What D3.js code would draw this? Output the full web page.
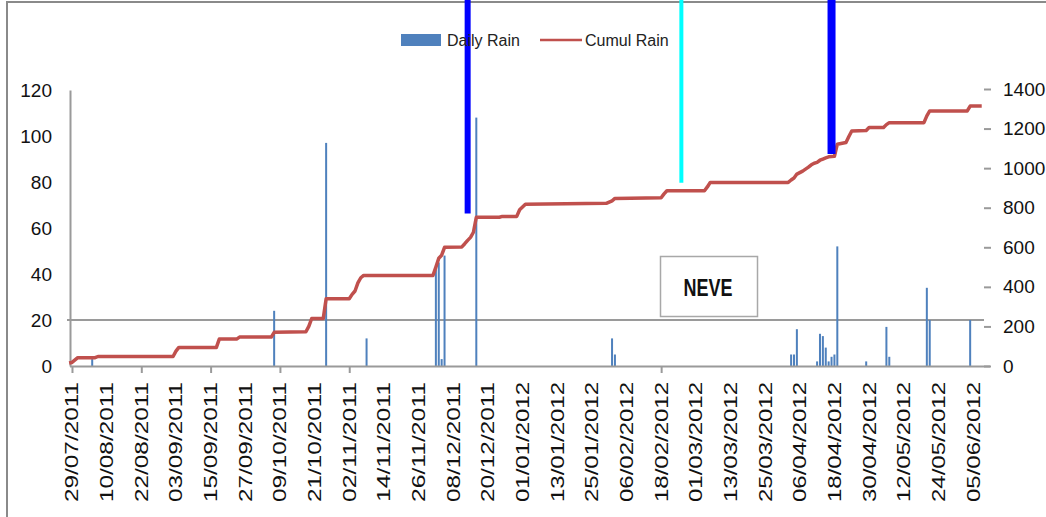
<!DOCTYPE html>
<html><head><meta charset="utf-8">
<script src="https://cdn.jsdelivr.net/npm/d3@7"></script>
<style>
html,body{margin:0;padding:0;background:#fff;}
svg{display:block;font-family:"Liberation Sans",Arial,sans-serif;}
</style></head>
<body><svg id="c" width="1046" height="517"></svg>
<script>
// ---------- DATA ----------
const xTickLabels = ["29/07/2011","10/08/2011","22/08/2011","03/09/2011","15/09/2011","27/09/2011","09/10/2011","21/10/2011","02/11/2011","14/11/2011","26/11/2011","08/12/2011","20/12/2011","01/01/2012","13/01/2012","25/01/2012","06/02/2012","18/02/2012","01/03/2012","13/03/2012","25/03/2012","06/04/2012","18/04/2012","30/04/2012","12/05/2012","24/05/2012","05/06/2012"];
const xTickMarks = ["29/07/2011","22/08/2011","15/09/2011","09/10/2011","02/11/2011","18/02/2012"];
const leftTicks = [0,20,40,60,80,100,120];
const rightTicks = [0,200,400,600,800,1000,1200,1400];

const rainDates = ["05/08/2011","07/10/2011","25/10/2011","08/11/2011","02/12/2011","03/12/2011","04/12/2011","05/12/2011","16/12/2011","01/02/2012","02/02/2012","03/04/2012","04/04/2012","05/04/2012","12/04/2012","13/04/2012","14/04/2012","15/04/2012","16/04/2012","17/04/2012","18/04/2012","19/04/2012","29/04/2012","06/05/2012","07/05/2012","20/05/2012","21/05/2012","04/06/2012"];
const rainValues = [3,24,97,12,42,45,3,48,108,12,5,5,5,16,2,14,13,8,2,4,5,52,2,17,4,34,20,20];

const cumulDates = ["28/07/2011","29/07/2011","31/07/2011","06/08/2011","07/08/2011","02/09/2011","03/09/2011","04/09/2011","17/09/2011","18/09/2011","24/09/2011","25/09/2011","06/10/2011","07/10/2011","18/10/2011","19/10/2011","20/10/2011","24/10/2011","25/10/2011","02/11/2011","03/11/2011","04/11/2011","05/11/2011","06/11/2011","07/11/2011","01/12/2011","02/12/2011","03/12/2011","04/12/2011","05/12/2011","11/12/2011","12/12/2011","13/12/2011","14/12/2011","15/12/2011","16/12/2011","24/12/2011","25/12/2011","30/12/2011","31/12/2011","02/01/2012","30/01/2012","01/02/2012","02/02/2012","18/02/2012","19/02/2012","20/02/2012","04/03/2012","05/03/2012","06/03/2012","02/04/2012","03/04/2012","04/04/2012","05/04/2012","07/04/2012","08/04/2012","09/04/2012","10/04/2012","11/04/2012","12/04/2012","13/04/2012","14/04/2012","15/04/2012","16/04/2012","18/04/2012","19/04/2012","22/04/2012","23/04/2012","24/04/2012","29/04/2012","30/04/2012","05/05/2012","06/05/2012","07/05/2012","19/05/2012","20/05/2012","21/05/2012","03/06/2012","04/06/2012","08/06/2012"];
const cumulValues = [15,18,42,42,48,48,75,94,94,136,136,146,146,170,173,200,240,240,340,340,362,379,420,446,458,458,500,545,560,600,602,618,635,650,676,752,752,756,756,790,818,822,835,847,850,870,886,886,905,928,928,940,950,970,985,995,1005,1017,1025,1029,1040,1046,1052,1057,1060,1121,1130,1160,1188,1190,1205,1205,1220,1230,1230,1264,1289,1289,1314,1314];

const markerDates = ["13/12/2011","25/02/2012","17/04/2012"];
const markerEnds = [771, 926, 1072];

const seriesNames = ["Daily Rain","Cumul Rain"];
const noteText = "NEVE";
const xDomain = ["28/07/2011","09/06/2012"];

// ---------- DRAW ----------
const parse = d3.utcParse("%d/%m/%Y");
const svg = d3.select("#c");
const x = d3.scaleUtc().domain(xDomain.map(parse)).range([69.1, 984.6]);
const yL = d3.scaleLinear().domain([0,120]).range([366, 90]);
const yR = d3.scaleLinear().domain([0,1400]).range([366, 89]);
const axisCol = "#9a9a9a";

// frame
svg.append("path").attr("d","M7,517V2H1046").attr("fill","none").attr("stroke","#8a8a8a").attr("stroke-width",2);

// reference line at 20
svg.append("line").attr("x1",67).attr("x2",984).attr("y1",yL(20)).attr("y2",yL(20))
  .attr("stroke",axisCol).attr("stroke-width",2);

// left axis
const gL = svg.append("g").attr("transform","translate(70,0)")
  .call(d3.axisLeft(yL).tickValues(leftTicks).tickSize(0).tickPadding(18));
gL.select(".domain").attr("stroke",axisCol).attr("stroke-width",2);
gL.selectAll("text").attr("font-size",19).attr("fill","#111").attr("font-family","Liberation Sans, Arial, sans-serif");

// right axis
const gR = svg.append("g").attr("transform","translate(984,0)")
  .call(d3.axisRight(yR).tickValues(rightTicks).tickFormat(d3.format("d")).tickSize(7).tickPadding(12));
gR.select(".domain").remove();
gR.selectAll("line").attr("stroke",axisCol).attr("stroke-width",2);
gR.selectAll("text").attr("font-size",19).attr("fill","#111").attr("font-family","Liberation Sans, Arial, sans-serif");

// bars
const bw = 2;
svg.append("g").selectAll("rect").data(rainDates.map((d,i)=>({d:parse(d), v:rainValues[i]})))
  .join("rect")
  .attr("x", d=>x(d.d)-bw/2).attr("width", bw)
  .attr("y", d=>yL(d.v)).attr("height", d=>yL(0)-yL(d.v))
  .attr("fill","#4f81bd");

// x axis
const gX = svg.append("g").attr("transform","translate(0,366)")
  .call(d3.axisBottom(x).tickValues(xTickMarks.map(parse)).tickSize(7).tickFormat(""));
gX.select(".domain").attr("d","M70,0.5H990").attr("stroke",axisCol).attr("stroke-width",2);
gX.selectAll(".tick line").attr("stroke",axisCol).attr("stroke-width",2);

svg.append("g").selectAll("text").data(xTickLabels).join("text")
  .attr("transform", d=>`translate(${x(parse(d))},382) rotate(-90)`)
  .attr("text-anchor","end").attr("dy","0.36em")
  .attr("font-size",18).attr("fill","#111")
  .attr("textLength",120).attr("lengthAdjust","spacingAndGlyphs")
  .text(d=>d);

// cumulative line
const line = d3.line().x(d=>x(d.d)).y(d=>yR(d.v));
svg.append("path").datum(cumulDates.map((d,i)=>({d:parse(d), v:cumulValues[i]})))
  .attr("d", line).attr("fill","none").attr("stroke","#c0504d")
  .attr("stroke-width",3.5).attr("stroke-linejoin","round");

// marker lines
const markerColors = ["#0000ff","#00ffff","#0000ff"];
const markerWidths = [6,4,8];
svg.append("g").selectAll("line").data(markerDates.map((d,i)=>({d:parse(d), v:markerEnds[i], i})))
  .join("line")
  .attr("x1", d=>x(d.d)).attr("x2", d=>x(d.d))
  .attr("y1", 0).attr("y2", d=>yR(d.v))
  .attr("stroke", d=>markerColors[d.i]).attr("stroke-width", d=>markerWidths[d.i]);

// NEVE box
svg.append("rect").attr("x",660.5).attr("y",256.5).attr("width",97).attr("height",60)
  .attr("fill","#fff").attr("stroke","#a8a8a8").attr("stroke-width",1.5);
svg.append("text").attr("x",708).attr("y",296).attr("text-anchor","middle")
  .attr("font-size",23).attr("font-weight","bold").attr("fill","#111")
  .attr("textLength",49).attr("lengthAdjust","spacingAndGlyphs").text(noteText);

// legend
svg.append("rect").attr("x",401).attr("y",34).attr("width",40).attr("height",12).attr("fill","#4f81bd");
svg.append("text").attr("x",447).attr("y",46).attr("font-size",16).attr("fill","#222").text(seriesNames[0]);
svg.append("line").attr("x1",540).attr("x2",582).attr("y1",40).attr("y2",40).attr("stroke","#c0504d").attr("stroke-width",2.5);
svg.append("text").attr("x",585).attr("y",46).attr("font-size",16).attr("fill","#222").text(seriesNames[1]);
</script></body></html>
